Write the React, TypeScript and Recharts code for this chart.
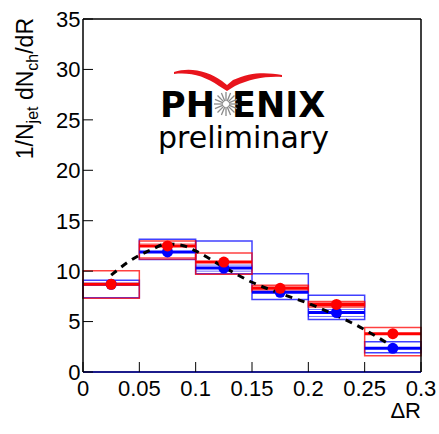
import React from 'react';
import { ComposedChart, XAxis, YAxis, Scatter, Line, ReferenceArea, ReferenceLine } from 'recharts';

const binLow = [0, 0.05, 0.1, 0.15, 0.2, 0.25];
const binHigh = [0.05, 0.1, 0.15, 0.2, 0.25, 0.3];
const binCenter = [0.025, 0.075, 0.125, 0.175, 0.225, 0.275];

const redValue = [8.7, 12.5, 10.9, 8.3, 6.7, 3.8];
const redSysLow = [7.3, 11.2, 9.7, 7.95, 6.45, 1.6];
const redSysHigh = [10.05, 13.0, 11.8, 8.6, 7.0, 4.4];
const redInnerLow: (number | null)[] = [null, 11.35, null, 8.1, 6.55, null];
const redInnerHigh: (number | null)[] = [null, 12.7, null, 8.45, 6.9, null];

const blueValue = [8.7, 11.9, 10.3, 7.9, 5.9, 2.35];
const blueSysLow = [7.35, 11.15, 9.75, 7.2, 5.2, 1.9];
const blueSysHigh = [9.1, 13.15, 13.0, 9.75, 7.6, 3.0];
const blueInnerLow: (number | null)[] = [null, null, 10.0, null, 5.5, null];
const blueInnerHigh: (number | null)[] = [null, null, 10.6, null, 6.2, null];

const curveX = [0.025, 0.04, 0.06, 0.075, 0.09, 0.1, 0.125, 0.15, 0.175, 0.2, 0.225, 0.25, 0.275];
const curveY = [9.6, 10.9, 12.1, 12.7, 12.5, 12.0, 10.4, 8.9, 7.8, 6.8, 5.6, 4.2, 2.5];

const xMajorTicks = [0, 0.05, 0.1, 0.15, 0.2, 0.25, 0.3];
const xTickLabels = ['0', '0.05', '0.1', '0.15', '0.2', '0.25', '0.3'];
const xMinorTicks = [0.01, 0.02, 0.03, 0.04, 0.06, 0.07, 0.08, 0.09, 0.11, 0.12, 0.13, 0.14, 0.16, 0.17, 0.18, 0.19, 0.21, 0.22, 0.23, 0.24, 0.26, 0.27, 0.28, 0.29];
const yMajorTicks = [0, 5, 10, 15, 20, 25, 30, 35];
const yMinorTicks = [1, 2, 3, 4, 6, 7, 8, 9, 11, 12, 13, 14, 16, 17, 18, 19, 21, 22, 23, 24, 26, 27, 28, 29, 31, 32, 33, 34];

const RED = '#ff0000';
const BLUE = '#0000ff';
const FONT = 'Liberation Sans, Arial, sans-serif';

const redPoints = binCenter.map((x, i) => ({ x, y: redValue[i] }));
const bluePoints = binCenter.map((x, i) => ({ x, y: blueValue[i] }));
const curveData = curveX.map((x, i) => ({ x, y: curveY[i] }));

const fmtX = (v: number) => {
  const i = xMajorTicks.indexOf(v);
  return i >= 0 ? xTickLabels[i] : String(v);
};

const dot = (color: string) => (p: any) => <circle cx={p.cx} cy={p.cy} r={5.5} fill={color} />;

function boxes(lo: (number | null)[], hi: (number | null)[], color: string, width: number, opacity: number, prefix: string) {
  return binLow.map((x1, i) =>
    lo[i] == null || hi[i] == null ? null : (
      <ReferenceArea
        key={prefix + i}
        xAxisId="main"
        yAxisId="main"
        x1={x1}
        x2={binHigh[i]}
        y1={lo[i] as number}
        y2={hi[i] as number}
        fill="none"
        fillOpacity={0}
        stroke={color}
        strokeWidth={width}
        strokeOpacity={opacity}
        ifOverflow="visible"
      />
    )
  );
}

function centralLines(vals: number[], color: string, prefix: string) {
  return binLow.map((x1, i) => (
    <ReferenceLine
      key={prefix + i}
      xAxisId="main"
      yAxisId="main"
      segment={[{ x: x1, y: vals[i] }, { x: binHigh[i], y: vals[i] }]}
      stroke={color}
      strokeWidth={3}
      ifOverflow="visible"
    />
  ));
}

const spokes = Array.from({ length: 16 }, (_, i) => (i * Math.PI) / 8);

export default function App() {
  return (
    <div style={{ position: 'absolute', left: 0, top: 0, width: 439, height: 434, background: '#fff' }}>
      <ComposedChart
        width={439}
        height={434}
        margin={{ top: 18, right: 17, bottom: 60, left: 81 }}
        style={{ fontFamily: FONT }}
      >
        <XAxis
          xAxisId="main"
          type="number"
          dataKey="x"
          domain={[0, 0.3]}
          allowDataOverflow
          ticks={xMajorTicks}
          interval={0}
          tickFormatter={fmtX}
          tickSize={-10}
          tickMargin={18}
          height={1}
          axisLine={{ stroke: '#1c1c8c', strokeWidth: 2 }}
          tickLine={{ stroke: '#000', strokeWidth: 1 }}
          tick={{ fill: '#000', fontSize: 22, fontFamily: FONT }}
        />
        <XAxis
          xAxisId="minor"
          type="number"
          domain={[0, 0.3]}
          allowDataOverflow
          ticks={xMinorTicks}
          interval={0}
          tick={false}
          tickSize={-6}
          height={1}
          axisLine={false}
          tickLine={{ stroke: '#000', strokeWidth: 1 }}
        />
        <XAxis
          xAxisId="top"
          orientation="top"
          type="number"
          domain={[0, 0.3]}
          allowDataOverflow
          ticks={xMajorTicks}
          tick={false}
          tickLine={false}
          height={1}
          axisLine={{ stroke: '#000', strokeWidth: 1.5 }}
        />
        <YAxis
          yAxisId="main"
          type="number"
          domain={[0, 35]}
          allowDataOverflow
          ticks={yMajorTicks}
          interval={0}
          tickSize={-10}
          tickMargin={12.5}
          width={1}
          axisLine={{ stroke: '#000', strokeWidth: 1.5 }}
          tickLine={{ stroke: '#000', strokeWidth: 1 }}
          tick={{ fill: '#000', fontSize: 22, fontFamily: FONT }}
        />
        <YAxis
          yAxisId="minor"
          type="number"
          domain={[0, 35]}
          allowDataOverflow
          ticks={yMinorTicks}
          interval={0}
          tick={false}
          tickSize={-6}
          width={1}
          axisLine={false}
          tickLine={{ stroke: '#000', strokeWidth: 1 }}
        />
        <YAxis
          yAxisId="right"
          orientation="right"
          type="number"
          domain={[0, 35]}
          allowDataOverflow
          ticks={yMajorTicks}
          tick={false}
          tickLine={false}
          width={1}
          axisLine={{ stroke: '#000', strokeWidth: 1.5 }}
        />
        {boxes(blueSysLow, blueSysHigh, BLUE, 1.5, 0.75, 'bo')}
        {boxes(blueInnerLow, blueInnerHigh, BLUE, 1, 0.55, 'bi')}
        {centralLines(blueValue, BLUE, 'bc')}
        {boxes(redSysLow, redSysHigh, RED, 1.5, 0.75, 'ro')}
        {boxes(redInnerLow, redInnerHigh, RED, 1, 0.55, 'ri')}
        {centralLines(redValue, RED, 'rc')}
        <Line
          xAxisId="main"
          yAxisId="main"
          data={curveData}
          dataKey="y"
          type="monotone"
          stroke="#000"
          strokeWidth={3}
          strokeDasharray="7 6"
          dot={false}
          activeDot={false}
          isAnimationActive={false}
        />
        <Scatter xAxisId="main" yAxisId="main" data={bluePoints} dataKey="y" fill={BLUE} shape={dot(BLUE)} isAnimationActive={false} />
        <Scatter xAxisId="main" yAxisId="main" data={redPoints} dataKey="y" fill={RED} shape={dot(RED)} isAnimationActive={false} />
      </ComposedChart>
      <svg width={439} height={434} style={{ position: 'absolute', left: 0, top: 0, pointerEvents: 'none' }}>
        <text
          transform="translate(33, 18) rotate(-90)"
          textAnchor="end"
          fontFamily={FONT}
          fontSize={23}
          fill="#000"
        >
          <tspan>1/N</tspan>
          <tspan fontSize={16} dy={5}>jet</tspan>
          <tspan dy={-5}> dN</tspan>
          <tspan fontSize={16} dy={5}>ch</tspan>
          <tspan dy={-5}>/dR</tspan>
        </text>
        <text x={421} y={418} textAnchor="end" fontFamily={FONT} fontSize={22} fill="#000">ΔR</text>
        <path
          d="M174,72 C190,67 208,71 222,81 L227,85 L233,80 C250,72 266,72 282,75 L282,77 C266,76 250,79 235,86 L227,91 L219,86 C205,76 190,72 174,74 Z"
          fill="#e8141c"
        />
        <text x={160} y={117} fontFamily="DejaVu Sans" fontWeight="bold" fontSize={35} fill="#000">PH</text>
        <text x={232} y={117} fontFamily="DejaVu Sans" fontWeight="bold" fontSize={35} fill="#000">ENIX</text>
        {spokes.map((a, i) => (
          <line
            key={i}
            x1={226 + 3 * Math.cos(a)}
            y1={104 + 3 * Math.sin(a)}
            x2={226 + 12 * Math.cos(a)}
            y2={104 + 12 * Math.sin(a)}
            stroke="#8a8a8a"
            strokeWidth={1.3}
          />
        ))}
        <text x={158} y={148} fontFamily="DejaVu Sans" fontSize={30} fill="#000">preliminary</text>
      </svg>
    </div>
  );
}
